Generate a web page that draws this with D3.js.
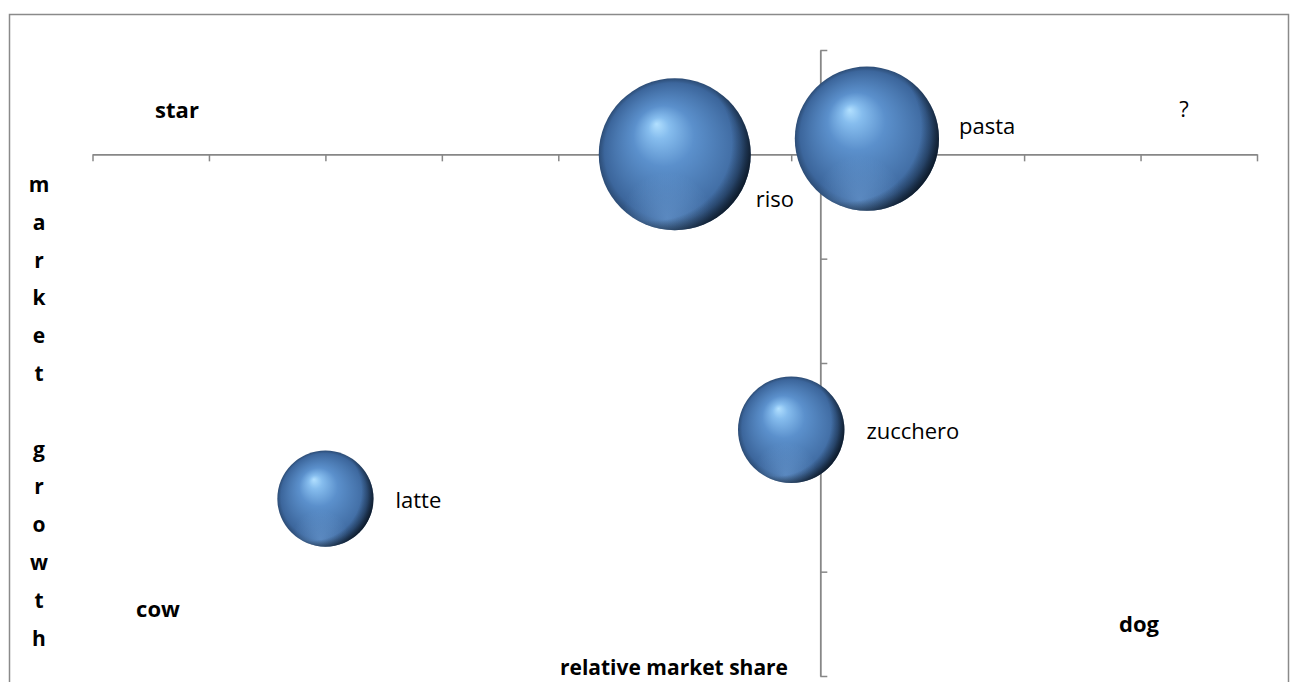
<!DOCTYPE html>
<html>
<head>
<meta charset="utf-8">
<script src="https://cdn.jsdelivr.net/npm/d3@7"></script>
<style>
    body { margin: 0; background: #fff; }
    text { font-family: "Open Sans", sans-serif; fill: #000; }
</style>
</head>
<body>
<div id="chart"></div>
<script>
/* * * * * * * * * * * * * *
*        BCG bubbles       *
* * * * * * * * * * * * * */

// data
let products = ["riso", "pasta", "zucchero", "latte"];
let marketShare = [1.0, 1.33, 1.2, 0.4];
let marketGrowth = [0, 0.75, -13.2, -16.5];
let bubbleSize = [100, 90, 49, 40];

let quadrants = ["star", "?", "cow", "dog"];
let xTickValues = [0, 0.2, 0.4, 0.6, 0.8, 1.0, 1.2, 1.4, 1.6, 1.8, 2.0];
let yTickValues = [-25, -20, -15, -10, -5, 0, 5];
let xTitle = "relative market share";
let yTitle = "market growth";

class BubbleVis {

    constructor(parentElement) {
        this.parentElement = parentElement;
        this.initVis();
    }

    initVis() {
        let vis = this;

        vis.width = 1295;
        vis.height = 682;

        vis.svg = d3.select("#" + vis.parentElement).append("svg")
            .attr("width", vis.width)
            .attr("height", vis.height);

        // chart frame
        vis.svg.append("rect")
            .attr("x", 9.5)
            .attr("y", 14.5)
            .attr("width", 1279)
            .attr("height", 700)
            .attr("fill", "#fff")
            .attr("stroke", "#8a8a8a")
            .attr("stroke-width", 1.5);

        // scales
        vis.x = d3.scaleLinear().domain([0, 2]).range([92.5, 1257]);
        vis.y = d3.scaleLinear().domain([-25, 5]).range([676, 50]);
        vis.r = d3.scaleSqrt().domain([0, 100]).range([0, 76]);

        // sphere look
        let defs = vis.svg.append("defs");
        let ball = defs.append("radialGradient")
            .attr("id", "ball")
            .attr("cx", "50%").attr("cy", "50%").attr("r", "50%")
            .attr("fx", "38%").attr("fy", "30%");
        [["0%", "#b2e0ff"], ["14%", "#86bdee"], ["40%", "#5b90cc"], ["72%", "#4876ae"], ["90%", "#3c669c"], ["100%", "#2c4c75"]]
            .forEach(s => ball.append("stop").attr("offset", s[0]).attr("stop-color", s[1]));

        let rim = defs.append("radialGradient")
            .attr("id", "rim")
            .attr("cx", "36%").attr("cy", "42%").attr("r", "66%");
        [["0%", 0], ["78%", 0], ["90%", 0.45], ["100%", 0.9]]
            .forEach(s => rim.append("stop").attr("offset", s[0])
                .attr("stop-color", "#0a1522").attr("stop-opacity", s[1]));

        let glow = defs.append("radialGradient")
            .attr("id", "glow")
            .attr("cx", "45%").attr("cy", "92%").attr("r", "30%");
        [["0%", 0.45], ["100%", 0]]
            .forEach(s => glow.append("stop").attr("offset", s[0])
                .attr("stop-color", "#7fb2ea").attr("stop-opacity", s[1]));

        vis.wrangleData();
    }

    wrangleData() {
        let vis = this;

        vis.displayData = products.map((p, i) => ({
            name: p,
            share: marketShare[i],
            growth: marketGrowth[i],
            size: bubbleSize[i]
        }));

        vis.updateVis();
    }

    updateVis() {
        let vis = this;
        let axisColor = "#878787";

        // x axis through growth = 0
        let xAxis = vis.svg.append("g")
            .attr("transform", `translate(0, ${vis.y(0)})`)
            .call(d3.axisBottom(vis.x).tickValues(xTickValues).tickSize(7).tickSizeOuter(0).tickFormat(""));

        // y axis through share = 1.25
        let yAxis = vis.svg.append("g")
            .attr("transform", `translate(${vis.x(1.25)}, 0)`)
            .call(d3.axisRight(vis.y).tickValues(yTickValues).tickSize(7).tickSizeOuter(0).tickFormat(""));

        [xAxis, yAxis].forEach(a => {
            a.selectAll("text").remove();
            a.select(".domain").attr("stroke", axisColor).attr("stroke-width", 1.8);
            a.selectAll(".tick line").attr("stroke", axisColor).attr("stroke-width", 1.5);
        });

        // bubbles
        let bubbles = vis.svg.selectAll(".bubble")
            .data(vis.displayData)
            .enter().append("g")
            .attr("class", "bubble")
            .attr("transform", d => `translate(${vis.x(d.share)}, ${vis.y(d.growth)})`);

        ["url(#ball)", "url(#glow)", "url(#rim)"].forEach(fill => {
            bubbles.append("circle")
                .attr("r", d => vis.r(d.size))
                .attr("fill", fill);
        });

        // data labels (riso and pasta were dragged in the original)
        let labelShift = {riso: [5, 53], pasta: [20, -5]};
        vis.svg.selectAll(".bubble-label")
            .data(vis.displayData)
            .enter().append("text")
            .attr("class", "bubble-label")
            .attr("x", d => vis.x(d.share) + vis.r(d.size) + (labelShift[d.name] ? labelShift[d.name][0] : 22))
            .attr("y", d => vis.y(d.growth) + (labelShift[d.name] ? labelShift[d.name][1] : 9))
            .style("font-size", "22px")
            .text(d => d.name);

        // quadrant names
        let quadPos = [[177, 118, "bold"], [1184, 117, "normal"], [158, 617, "bold"], [1139, 632, "bold"]];
        vis.svg.selectAll(".quadrant")
            .data(quadrants)
            .enter().append("text")
            .attr("class", "quadrant")
            .attr("x", (d, i) => quadPos[i][0])
            .attr("y", (d, i) => quadPos[i][1])
            .attr("text-anchor", "middle")
            .style("font-size", "22px")
            .style("font-weight", (d, i) => quadPos[i][2])
            .text(d => d);

        // axis titles
        vis.svg.append("text")
            .attr("x", 674)
            .attr("y", 675)
            .attr("text-anchor", "middle")
            .style("font-size", "21px")
            .style("font-weight", "bold")
            .text(xTitle);

        // stacked vertical title
        vis.svg.append("g")
            .selectAll("text")
            .data(yTitle.split(""))
            .enter().append("text")
            .attr("x", 39)
            .attr("y", (d, i) => 192 + i * 37.8)
            .attr("text-anchor", "middle")
            .style("font-size", "21px")
            .style("font-weight", "bold")
            .text(d => d);
    }
}

new BubbleVis("chart");
</script>
</body>
</html>
